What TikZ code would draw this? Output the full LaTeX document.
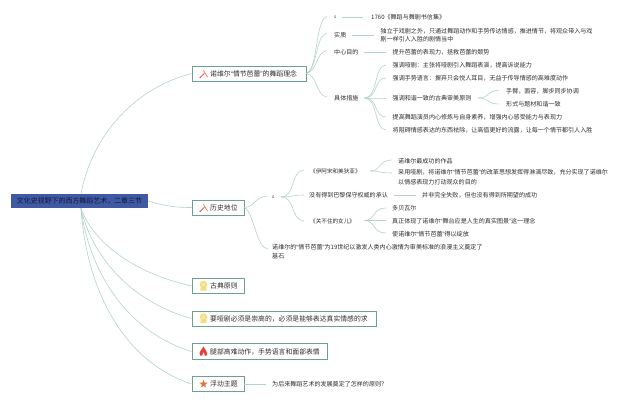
\documentclass[tikz,border=0pt]{standalone}
\usepackage{fontspec}
\setmainfont{Noto Sans CJK SC}
\newfontfamily\qf{Liberation Sans}
\newcommand\ql{{\qf “}}
\newcommand\qr{{\qf ”}}
\usetikzlibrary{shapes.geometric}
\definecolor{conn}{HTML}{B4D3CB}
\definecolor{boxb}{HTML}{6F9E94}
\definecolor{txt}{HTML}{2E2E2E}
\definecolor{rootf}{HTML}{3F5AA2}
\definecolor{roott}{HTML}{10173F}
\definecolor{redi}{HTML}{E2443A}
\definecolor{medal}{HTML}{F7DC7E}
\definecolor{stari}{HTML}{E8703A}
\tikzset{
  leaf/.style={anchor=west,inner xsep=0pt,inner ysep=1pt,text=txt,font=\fontsize{6.05}{9}\selectfont,align=left},
  title/.style={leaf,font=\fontsize{6.85}{8}\selectfont},
  tiny/.style={leaf,font=\fontsize{4.5}{5}\selectfont},
  book/.style={leaf,font=\fontsize{5.6}{8}\selectfont},
  branch/.style={anchor=west,draw=boxb,line width=0.9pt,fill=white,inner sep=0pt},
  rootbox/.style={fill=rootf,inner sep=0pt,text=roott,font=\fontsize{6.95}{8}\selectfont},
  conn/.style={draw=conn,line width=0.6pt},
  icn/.style={line width=0.7pt,line cap=round}
}
\begin{document}
\begin{tikzpicture}[x=1pt,y=-1pt]
\useasboundingbox (0,0) rectangle (640,402);
\fill[white] (0,0) rectangle (640,402);
% root
\node[rootbox,minimum width=137pt,minimum height=14.5pt] (root) at (79.5,201) {文化史视野下的西方舞蹈艺术，二章三节};
% branches
\node[branch,minimum width=114pt,minimum height=15pt] (A) at (191.5,73.5) {};
\node[branch,minimum width=52pt,minimum height=15pt] (B) at (191.5,207.5) {};
\node[branch,minimum width=52pt,minimum height=15.5pt] (C) at (191.5,286) {};
\node[branch,minimum width=184pt,minimum height=15pt] (D) at (191.5,318.5) {};
\node[branch,minimum width=135pt,minimum height=15.5pt] (E) at (191.5,351.5) {};
\node[branch,minimum width=52pt,minimum height=15.5pt] (F) at (191.5,384) {};
\node[title] (At) at (210,73.5) {诺维尔\ql 情节芭蕾\qr 的舞蹈理念};
\node[title] (Bt) at (210,207.5) {历史地位};
\node[title] (Ct) at (210,286) {古典原则};
\node[title] (Dt) at (210,318.5) {要哑剧必须是崇高的，必须是能够表达真实情感的求};
\node[title] (Et) at (210,351.5) {腿部高难动作，手势语言和面部表情};
\node[title] (Ft) at (210,384) {浮动主题};
% icons
\foreach \n in {A,B}{
  \begin{scope}[shift={(\n.west)},xshift=12.5pt]
    \draw[icn,redi] (-3.5,3.5) -- (0.5,-0.5);
    \draw[icn,redi!70!white] (-0.5,-3) -- (3.5,3.5);
    \fill[redi] (-3.8,3.9) circle (0.8pt);
  \end{scope}}
\foreach \n in {C,D}{
  \begin{scope}[shift={(\n.west)},xshift=12pt]
    \fill[medal] (0,-1.5) circle (3.7pt);
    \fill[medal] (-2.6,1) -- (2.6,1) -- (3.2,4.5) -- (-3.2,4.5) -- cycle;
    \fill[medal!70!white] (0,-1.5) circle (2pt);
  \end{scope}}
\begin{scope}[shift={(E.west)},xshift=12pt]
  \fill[redi] (-3.5,4) .. controls (-5,0) and (-2,-1) .. (0,-5) .. controls (1,-2) and (4.5,0) .. (3.5,4) -- (1.2,4) .. controls (1.5,2) and (0,1) .. (-0.2,0.5) .. controls (-0.5,2) and (-1.5,2.5) .. (-1.2,4) -- cycle;
\end{scope}
\node[star,star points=5,star point ratio=2.4,fill=stari,inner sep=0pt,minimum size=8.5pt] (starI) at (203.5,384) {};
% right tree A
\node[tiny] (a1) at (334,17) {s};
\node[leaf] (a2) at (334,35) {实质};
\node[leaf] (a3) at (334,52) {中心目的};
\node[leaf] (a4) at (334,98) {具体措施};
\node[leaf] (a1x) at (371,17) {1760《舞蹈与舞剧书信集》};
\node[leaf,font=\fontsize{6.05}{8.4}\selectfont] (a2x) at (380.5,35) {独立于戏剧之外，只通过舞蹈动作和手势传达情感，推进情节，将观众带入与戏\\剧一样引人入胜的剧情当中};
\node[leaf] (a3x) at (392.5,52) {提升芭蕾的表现力，拯救芭蕾的颓势};
\node[leaf] (a41) at (392.5,65) {强调哑剧：主张将哑剧引入舞蹈表演，提高诉说能力};
\node[leaf] (a42) at (392.5,78) {强调手势语言：摒弃只会悦人耳目，无益于传导情感的高难度动作};
\node[leaf] (a43) at (392.5,98) {强调和谐一致的古典审美原则};
\node[leaf] (a44) at (392.5,117) {提高舞蹈演员内心修炼与自身素养，增强内心感受能力与表现力};
\node[leaf] (a45) at (392.5,130) {将阻碍情感表达的东西祛除，让高值更好的流露，让每一个情节都引人入胜};
\node[leaf] (a431) at (506,91) {手臂，面容，脚步同步协调};
\node[leaf] (a432) at (506,104) {形式与题材和谐一致};
% right tree B
\node[tiny] (b1) at (272,197) {s};
\node[leaf] (b2) at (272,251.5) {诺维尔的\ql 情节芭蕾\qr 为19世纪以激发人类内心激情为审美标准的浪漫主义奠定了\\基石};
\node[book] (b11) at (310,171) {《伊阿宋和美狄亚》};
\node[leaf] (b12) at (309,195) {没有得到巴黎保守权威的承认};
\node[book] (b13) at (310,221) {《关不住的女儿》};
\node[leaf] (b111) at (398,161) {诺维尔最成功的作品};
\node[leaf,font=\fontsize{6.05}{10}\selectfont] (b112) at (398,177.5) {采用哑剧，将诺维尔\ql 情节芭蕾\qr 的改革思想发挥得淋漓尽致，充分实现了诺维尔\\以情感表现力打动观众的目的};
\node[leaf] (b121) at (422,195) {并非完全失败，但也没有得到所期望的成功};
\node[leaf] (b131) at (392,208) {多贝瓦尔};
\node[leaf] (b132) at (392,221) {真正体现了诺维尔\ql 舞台应是人生的真实图景\qr 这一理念};
\node[leaf] (b133) at (392,234) {使诺维尔\ql 情节芭蕾\qr 得以绽放};
\node[leaf] (f1) at (272,384) {为后来舞蹈艺术的发展奠定了怎样的原则？};
% connectors from root
\coordinate (rt) at (81,193.8);
\coordinate (rb) at (81,208.2);
\draw[conn] (rt) .. controls (92,135) and (135,88) .. (A.west);
\draw[conn] (root.east) .. controls (165,206) and (175,207.5) .. (B.west);
\draw[conn] (rb) .. controls (92,240) and (130,272) .. (C.west);
\draw[conn] (rb) .. controls (90,250) and (125,300) .. (D.west);
\draw[conn] (rb) .. controls (88,265) and (122,330) .. (E.west);
\draw[conn] (rb) .. controls (86,285) and (120,360) .. (F.west);
% A tree connectors
\coordinate (a1w) at (327,16.5);
\coordinate (a2w) at (327,33);
\coordinate (a3w) at (327,50.5);
\coordinate (a4w) at (327,97);
\draw[conn] (A.east) .. controls (318,70) and (315,20) .. (a1w);
\draw[conn] (A.east) .. controls (318,68) and (315,36) .. (a2w);
\draw[conn] (A.east) .. controls (318,70) and (316,52) .. (a3w);
\draw[conn] (A.east) .. controls (318,76) and (316,96) .. (a4w);
\coordinate (a1e) at (342,17);
\coordinate (a1xw) at (363,17);
\draw[conn] (a1e) -- (a1xw);
\coordinate (a2e) at (352,35);
\coordinate (a2xw) at (373.5,35);
\draw[conn] (a2e) -- (a2xw);
\coordinate (a3e) at (364,52);
\coordinate (a3xw) at (386,52);
\draw[conn] (a3e) -- (a3xw);
\coordinate (a4e) at (364.5,98);
\foreach \k/\yy in {1/65,2/78,3/98,4/117,5/130}{
  \draw[conn] (a4e) .. controls (378,98) and (374,\yy) .. (386,\yy);
}
\coordinate (a43e) at (478,98);
\draw[conn] (a43e) .. controls (490,98) and (486,91) .. (499,90);
\draw[conn] (a43e) .. controls (490,98) and (486,104) .. (499,104);
% B tree connectors
\draw[conn] (B.east) .. controls (255,207) and (255,197) .. (267,196);
\draw[conn] (B.east) .. controls (254,212) and (256,248) .. (268,249);
\coordinate (b1e) at (281,197);
\draw[conn] (b1e) .. controls (296,197) and (290,171) .. (304,170);
\draw[conn] (b1e) .. controls (292,197) and (292,195) .. (304,195);
\draw[conn] (b1e) .. controls (296,197) and (290,220) .. (304,221);
\coordinate (b12e) at (394,195);
\coordinate (b121w) at (416,195);
\draw[conn] (b12e) -- (b121w);
\coordinate (b11e) at (370,171);
\draw[conn] (b11e) .. controls (382,171) and (378,160) .. (392,160);
\draw[conn] (b11e) .. controls (382,171) and (378,173) .. (392,173);
\coordinate (b13e) at (364,220.5);
\draw[conn] (b13e) .. controls (376,220.5) and (372,208) .. (386,208);
\draw[conn] (b13e) -- (386,220.5);
\draw[conn] (b13e) .. controls (376,220.5) and (372,233) .. (386,233);
\coordinate (f1w) at (266,384);
\draw[conn] (F.east) -- (f1w);
\end{tikzpicture}
\end{document}
